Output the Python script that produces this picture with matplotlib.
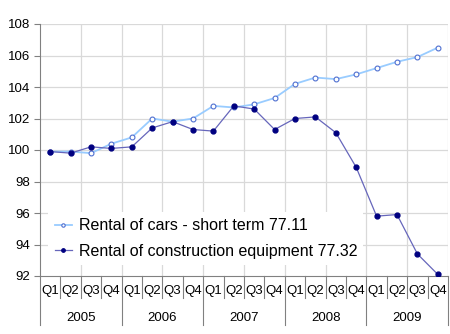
import matplotlib
matplotlib.use("Agg")
import matplotlib.pyplot as plt
import numpy as np

years = ["2005", "2006", "2007", "2008", "2009"]
quarters = ["Q1", "Q2", "Q3", "Q4"]
cars = [99.9, 99.9, 99.8, 100.4, 100.8, 102.0, 101.8, 102.0, 102.8, 102.7,
        102.9, 103.3, 104.2, 104.6, 104.5, 104.8, 105.2, 105.6, 105.9, 106.5]
constr = [99.9, 99.8, 100.2, 100.1, 100.2, 101.4, 101.8, 101.3, 101.2, 102.8,
          102.6, 101.3, 102.0, 102.1, 101.1, 98.9, 95.8, 95.9, 93.4, 92.1]
label_cars = "Rental of cars - short term 77.11"
label_constr = "Rental of construction equipment 77.32"

plt.rcParams['font.family'] = ['Liberation Sans', 'DejaVu Sans']
fig = plt.figure(figsize=(4.5, 3.34), dpi=100)
ax = fig.add_axes([40/450, 1-276/334, 408/450, 252/334])

n = len(cars)
x = np.arange(n)
ax.plot(x, cars, color='#99CCFF', lw=1.3, marker='o', ms=3.5,
        mfc='white', mec='#4F6FD0', mew=0.8, label=label_cars, zorder=3)
ax.plot(x, constr, color='#6666BB', lw=0.9, marker='o', ms=3.5,
        mfc='#000080', mec='#000080', label=label_constr, zorder=4)

ax.set_xlim(-0.5, n - 0.5)
ax.set_ylim(92, 108)
ax.set_yticks(np.arange(92, 109, 2))
ax.tick_params(axis='y', labelsize=9.5, length=4, color='#808080', pad=3)
ax.set_xticks([])
for yv in np.arange(94, 109, 2):
    ax.axhline(yv, color='#D9D9D9', lw=0.9, zorder=0)
for xv in np.arange(1.5, n, 2):
    ax.axvline(xv, color='#D9D9D9', lw=0.9, zorder=0)
for s in ['top', 'right']:
    ax.spines[s].set_visible(False)
ax.spines['left'].set_color('#808080')
ax.spines['bottom'].set_color('#808080')

trans = ax.get_xaxis_transform()
# quarter labels and separators
for i in range(n):
    ax.text(i, -0.0615, quarters[i % 4], transform=trans, ha='center', va='center',
            fontsize=9.5, clip_on=False)
for i in range(n + 1):
    bx = i - 0.5
    if i % 4 == 0:
        ax.plot([bx, bx], [0, -0.194], transform=trans, color='#808080',
                lw=0.8, clip_on=False)
    else:
        ax.plot([bx, bx], [0, -0.087], transform=trans, color='#808080',
                lw=0.8, clip_on=False)
for j, yr in enumerate(years):
    ax.text(j * 4 + 1.5, -0.167, yr, transform=trans, ha='center', va='center',
            fontsize=9.5, clip_on=False)

leg = ax.legend(loc='lower left', bbox_to_anchor=(0.02, 0.044), frameon=True,
                fontsize=11.5, handlelength=1.1, handletextpad=0.4,
                borderpad=0.4, labelspacing=0.65, borderaxespad=0,
                fancybox=False, edgecolor='white', framealpha=1, markerscale=0.7)
leg.get_frame().set_linewidth(0)

fig.savefig("out.png", dpi=100, facecolor='white')
